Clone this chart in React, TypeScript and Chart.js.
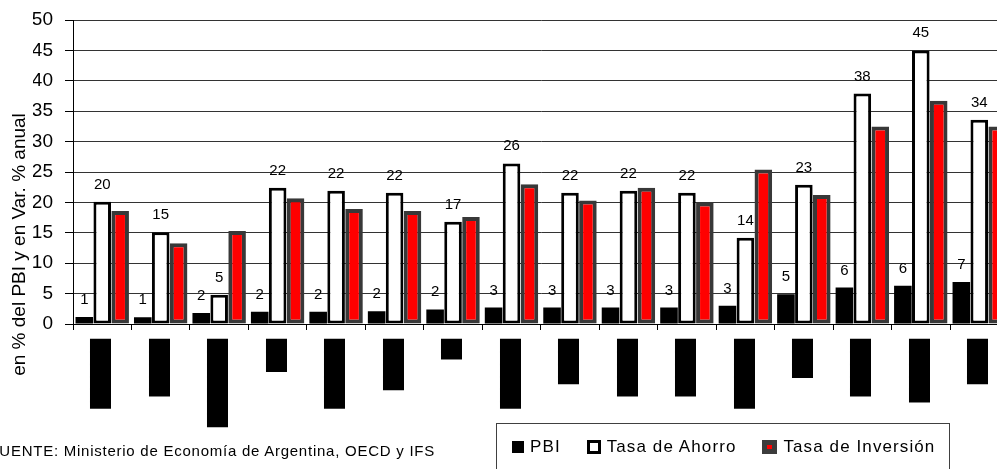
import React, { useEffect, useRef } from "react";
import { Chart, registerables } from "chart.js";

Chart.register(...registerables);

// Category labels are redacted in the source image (rendered as solid blocks)
const categories = [
  "▐█████",
  "▐████",
  "███████",
  "▐██",
  "▐█████",
  "████",
  "▐█",
  "▐█████",
  "▐███",
  "▐████",
  "▐████",
  "▐█████",
  "███",
  "▐████",
  "█████",
  "▐███",
];

const seriesNames = ["PBI", "Tasa de Ahorro", "Tasa de Inversión"];

const pbi = [1.15, 1.1, 1.8, 2.0, 2.0, 2.1, 2.4, 2.7, 2.7, 2.7, 2.7, 3.0, 4.9, 6.0, 6.3, 6.9];
const tasaAhorro = [20.1, 15.1, 4.8, 22.4, 21.9, 21.6, 16.8, 26.4, 21.6, 21.9, 21.6, 14.2, 22.9, 37.9, 45.0, 33.6];
const tasaInversion = [18.6, 13.3, 15.3, 20.7, 18.9, 18.6, 17.6, 23.0, 20.3, 22.4, 20.0, 25.4, 21.2, 32.5, 36.7, 32.5];

const yMin = 0;
const yMax = 50;
const yStep = 5;

const yAxisTitle = "en % del PBI y en Var. % anual";
const sourceNote = "FUENTE: Ministerio de Economía de Argentina, OECD y IFS";

const FONT = '"Liberation Sans", Arial, sans-serif';

const valueLabels = {
  id: "valueLabels",
  afterDatasetsDraw(chart: any) {
    const ctx = chart.ctx;
    ctx.save();
    ctx.font = `15px ${FONT}`;
    ctx.fillStyle = "#000";
    ctx.textAlign = "center";
    ctx.textBaseline = "alphabetic";
    [0, 1].forEach((di) => {
      const meta = chart.getDatasetMeta(di);
      meta.data.forEach((el: any, i: number) => {
        const v = chart.data.datasets[di].data[i] as number;
        ctx.fillText(String(Math.round(v)), el.x, el.y - 13);
      });
    });
    ctx.restore();
  },
};

const yTitlePlugin = {
  id: "yTitlePlugin",
  afterDraw(chart: any) {
    const { ctx, chartArea } = chart;
    const ys = chart.scales.y;
    ctx.save();
    ctx.translate(ys.left - 8, (chartArea.top + chart.height) / 2);
    ctx.rotate(-Math.PI / 2);
    ctx.font = `19px ${FONT}`;
    ctx.fillStyle = "#000";
    ctx.textAlign = "center";
    ctx.textBaseline = "alphabetic";
    ctx.fillText(yAxisTitle, 0, 0);
    ctx.restore();
  },
};

const swatches: React.CSSProperties[] = [
  { width: 12, height: 12, background: "#000" },
  { width: 14, height: 14, background: "#fff", border: "3px solid #000" },
  { width: 15, height: 14, background: "#ff0000", border: "5px solid #3c3c3c" },
];

export default function App() {
  const ref = useRef<HTMLCanvasElement | null>(null);

  useEffect(() => {
    if (!ref.current) return;
    const chart = new Chart(ref.current, {
      type: "bar",
      data: {
        labels: categories,
        datasets: [
          {
            label: seriesNames[0],
            data: pbi,
            backgroundColor: "#000",
            borderWidth: 0,
            categoryPercentage: 0.92,
            barPercentage: 0.98,
          },
          {
            label: seriesNames[1],
            data: tasaAhorro,
            backgroundColor: "#fff",
            borderColor: "#000",
            borderWidth: 3,
            borderSkipped: false,
            categoryPercentage: 0.92,
            barPercentage: 0.98,
          },
          {
            label: seriesNames[2],
            data: tasaInversion,
            backgroundColor: "#ff0000",
            borderColor: "#383838",
            borderWidth: 4,
            borderSkipped: false,
            categoryPercentage: 0.92,
            barPercentage: 0.98,
          },
        ],
      },
      options: {
        responsive: false,
        animation: false,
        devicePixelRatio: 1,
        layout: { padding: { left: 33, top: 20, right: 12.5, bottom: 0 } },
        plugins: {
          legend: { display: false },
          tooltip: { enabled: false },
        },
        scales: {
          x: {
            grid: {
              display: true,
              drawOnChartArea: false,
              drawTicks: true,
              tickLength: 6,
              tickColor: "#000",
              offset: true,
            },
            border: { display: true, color: "#000", width: 1 },
            ticks: {
              minRotation: 90,
              maxRotation: 90,
              autoSkip: false,
              padding: 10,
              color: "#000",
              textStrokeColor: "#000",
              textStrokeWidth: 2,
              font: { family: "DejaVu Sans", size: 16 },
            },
            afterFit: (s: any) => {
              s.height = 145;
            },
          },
          y: {
            min: yMin,
            max: yMax,
            ticks: {
              stepSize: yStep,
              color: "#000",
              padding: 12,
              font: { family: FONT, size: 19 },
            },
            grid: {
              color: "#333",
              lineWidth: 1,
              drawTicks: true,
              tickLength: 8,
              tickColor: "#000",
            },
            border: { display: true, color: "#000", width: 1 },
            afterFit: (s: any) => {
              s.width = 40;
              s.paddingTop = 12;
              s.paddingBottom = 12;
            },
          },
        },
      },
      plugins: [valueLabels, yTitlePlugin],
    } as any);
    return () => chart.destroy();
  }, []);

  return (
    <div
      style={{
        position: "fixed",
        left: 0,
        top: 0,
        width: 997,
        height: 469,
        overflow: "hidden",
        background: "#fff",
        fontFamily: FONT,
        color: "#000",
      }}
    >
      <canvas
        ref={ref}
        width={1021}
        height={469}
        style={{ position: "absolute", left: 0, top: 0, width: 1021, height: 469 }}
      />
      <div
        style={{
          position: "absolute",
          right: 997 - 435,
          top: 442,
          fontSize: 15,
          lineHeight: "17px",
          letterSpacing: "0.75px",
          whiteSpace: "nowrap",
          textAlign: "right",
        }}
      >
        {sourceNote}
      </div>
      <div
        style={{
          position: "absolute",
          left: 496,
          top: 423,
          width: 454,
          height: 70,
          border: "1px solid #404040",
          boxSizing: "border-box",
          display: "flex",
          alignItems: "flex-start",
          paddingLeft: 15,
          paddingTop: 13,
          fontSize: 17,
          letterSpacing: "1.1px",
        }}
      >
        {seriesNames.map((name, i) => (
          <div
            key={name}
            style={{
              display: "flex",
              alignItems: "center",
              height: 20,
              marginRight: 26,
              whiteSpace: "nowrap",
            }}
          >
            <span style={{ ...swatches[i], boxSizing: "border-box", display: "inline-block", marginRight: 6 }} />
            <span>{name}</span>
          </div>
        ))}
      </div>
    </div>
  );
}
